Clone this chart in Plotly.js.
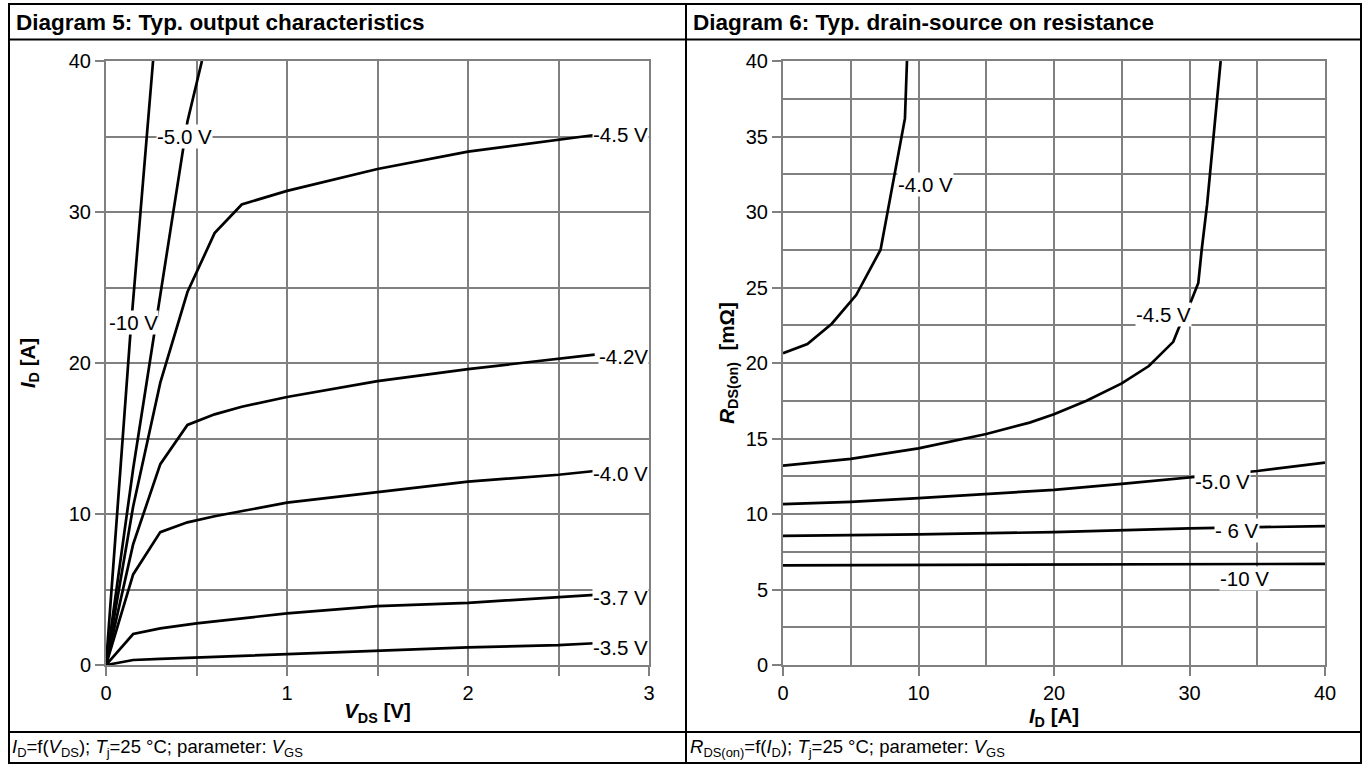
<!DOCTYPE html>
<html>
<head>
<meta charset="utf-8">
<script src="https://cdn.plot.ly/plotly-3.0.1.min.js"></script>
<style>html,body{margin:0;padding:0;background:#fff;}#chart{width:1364px;height:766px;}</style>
</head>
<body>
<div id="chart"></div>
<script>
// ---------- Diagram 5: output characteristics (VDS [V] -> ID [A]) ----------
const vds_m35 = [0, 0.15, 0.3, 0.5, 1.0, 1.5, 2.0, 2.5, 2.7];
const id_m35  = [0, 0.33, 0.40, 0.49, 0.73, 0.95, 1.17, 1.32, 1.44];
const vds_m37 = [0, 0.15, 0.3, 0.5, 1.0, 1.5, 2.0, 2.5, 2.7];
const id_m37  = [0, 2.05, 2.43, 2.76, 3.42, 3.90, 4.12, 4.46, 4.64];
const vds_m40 = [0, 0.15, 0.3, 0.45, 0.6, 0.75, 1.0, 1.5, 2.0, 2.5, 2.7];
const id_m40  = [0, 6.0, 8.8, 9.45, 9.85, 10.2, 10.75, 11.45, 12.15, 12.6, 12.85];
const vds_m42 = [0, 0.15, 0.3, 0.45, 0.6, 0.75, 1.0, 1.5, 2.0, 2.5, 2.7];
const id_m42  = [0, 8.0, 13.3, 15.9, 16.6, 17.1, 17.75, 18.8, 19.6, 20.25, 20.55];
const vds_m45 = [0, 0.15, 0.3, 0.45, 0.6, 0.75, 1.0, 1.5, 2.0, 2.5, 2.7];
const id_m45  = [0, 10.5, 18.7, 24.7, 28.6, 30.5, 31.4, 32.85, 34.0, 34.8, 35.1];
const vds_m50 = [0, 0.15, 0.3, 0.45, 0.53];
const id_m50  = [0, 13.0, 24.5, 36.0, 40.0];
const vds_m10 = [0, 0.135, 0.26];
const id_m10  = [0, 22.0, 40.0];
const leftNames = ['-3.5 V', '-3.7 V', '-4.0 V', '-4.2V', '-4.5 V', '-5.0 V', '-10 V'];

// ---------- Diagram 6: on resistance (ID [A] -> RDS(on) [mOhm]) ----------
const idr_m40 = [0, 1.8, 3.6, 5.4, 7.2, 9.0, 9.15];
const r_m40   = [20.65, 21.25, 22.6, 24.5, 27.5, 36.2, 40.0];
const idr_m45 = [0, 5, 10, 15, 18.2, 20, 22.4, 25, 27, 28.8, 29.2, 30.1, 30.65, 30.9, 31.3, 31.8, 32.3];
const r_m45   = [13.2, 13.65, 14.35, 15.3, 16.05, 16.6, 17.5, 18.65, 19.8, 21.4, 22.3, 24.06, 25.3, 27.5, 30.5, 35.0, 40.0];
const idr_m50 = [0, 5, 10, 15, 20, 25, 30, 35, 40];
const r_m50   = [10.65, 10.8, 11.05, 11.3, 11.6, 12.0, 12.4, 12.85, 13.4];
const idr_m6  = [0, 10, 20, 30, 40];
const r_m6    = [8.55, 8.65, 8.8, 9.05, 9.2];
const idr_m10 = [0, 20, 40];
const r_m10   = [6.6, 6.65, 6.7];
const rightNames = ['-4.0 V', '-4.5 V', '-5.0 V', '- 6 V', '-10 V'];

// ---------- texts ----------
const title5 = 'Diagram 5: Typ. output characteristics';
const title6 = 'Diagram 6: Typ. drain-source on resistance';
const foot5 = '<i>I</i><sub>D</sub>=f(<i>V</i><sub>DS</sub>); <i>T</i><sub>j</sub>=25 °C; parameter: <i>V</i><sub>GS</sub>';
const foot6 = '<i>R</i><sub>DS(on)</sub>=f(<i>I</i><sub>D</sub>); <i>T</i><sub>j</sub>=25 °C; parameter: <i>V</i><sub>GS</sub>';

const W = 1364, H = 766;
const FONT = 'Liberation Sans, Arial, Helvetica, sans-serif';
const px = v => v / W;
const py = v => 1 - v / H;
const GRID = '#808080';
const LINE = {color: '#000', width: 2.7};

function tr(x, y, name, xa, ya) {
  return {x: x, y: y, name: name, type: 'scatter', mode: 'lines', line: LINE,
          xaxis: xa, yaxis: ya, hoverinfo: 'skip', showlegend: false};
}

const data = [
  tr(vds_m35, id_m35, leftNames[0], 'x', 'y'),
  tr(vds_m37, id_m37, leftNames[1], 'x', 'y'),
  tr(vds_m40, id_m40, leftNames[2], 'x', 'y'),
  tr(vds_m42, id_m42, leftNames[3], 'x', 'y'),
  tr(vds_m45, id_m45, leftNames[4], 'x', 'y'),
  tr(vds_m50, id_m50, leftNames[5], 'x', 'y'),
  tr(vds_m10, id_m10, leftNames[6], 'x', 'y'),
  tr(idr_m40, r_m40, rightNames[0], 'x2', 'y2'),
  tr(idr_m45, r_m45, rightNames[1], 'x2', 'y2'),
  tr(idr_m50, r_m50, rightNames[2], 'x2', 'y2'),
  tr(idr_m6,  r_m6,  rightNames[3], 'x2', 'y2'),
  tr(idr_m10, r_m10, rightNames[4], 'x2', 'y2')
];

const tickFont = {family: FONT, size: 20, color: '#000'};
const titleFont = {family: FONT, size: 20.5, color: '#000'};
function axis(domain, range, dtick, minorDtick, minorTicks, extra) {
  return Object.assign({
    domain: domain, range: range, dtick: dtick, tick0: 0,
    showgrid: true, gridcolor: GRID, gridwidth: 2,
    ticks: 'outside', ticklen: 9, tickwidth: 2, tickcolor: GRID,
    showline: true, linecolor: GRID, linewidth: 2, mirror: true,
    zeroline: false, fixedrange: true, tickfont: tickFont, automargin: false,
    minor: {dtick: minorDtick, showgrid: true, gridcolor: GRID, gridwidth: 2,
            ticks: minorTicks ? 'outside' : '', ticklen: 9, tickwidth: 2, tickcolor: GRID}
  }, extra);
}
const ydom = [1 - 665 / H, 1 - 61 / H];

const layout = {
  width: W, height: H, margin: {l: 0, r: 0, t: 0, b: 0},
  paper_bgcolor: '#fff', plot_bgcolor: '#fff', showlegend: false,
  font: {family: FONT, color: '#000'},
  xaxis: axis([px(106), px(649)], [0, 3], 1, 0.5, true, {
    anchor: 'y',
    title: {text: '<b><i>V</i><sub>DS</sub> [V]</b>', font: titleFont, standoff: 1}
  }),
  yaxis: axis(ydom, [0, 40], 10, 5, false, {
    anchor: 'x',
    title: {text: '<b><i>I</i><sub>D</sub> [A]</b>', font: titleFont, standoff: 28}
  }),
  xaxis2: axis([px(783), px(1325)], [0, 40], 10, 5, false, {
    anchor: 'y2',
    title: {text: '<b><i>I</i><sub>D</sub> [A]</b>', font: titleFont, standoff: 1}
  }),
  yaxis2: axis(ydom, [0, 40], 5, 2.5, false, {
    anchor: 'x2',
    title: {text: '<b><i>R</i><sub>DS(on)</sub>\u00a0\u00a0[mΩ]</b>', font: titleFont, standoff: 6}
  }),
  shapes: [
    {type: 'rect', xref: 'paper', yref: 'paper', x0: px(9), x1: px(1361), y0: py(763), y1: py(4), line: {color: '#000', width: 2}},
    {type: 'line', xref: 'paper', yref: 'paper', x0: px(9), x1: px(1361), y0: py(39.5), y1: py(39.5), line: {color: '#000', width: 2}},
    {type: 'line', xref: 'paper', yref: 'paper', x0: px(9), x1: px(1361), y0: py(732), y1: py(732), line: {color: '#000', width: 2}},
    {type: 'line', xref: 'paper', yref: 'paper', x0: px(686), x1: px(686), y0: py(763), y1: py(4), line: {color: '#000', width: 2}}
  ],
  annotations: []
};

const hdrFont = {family: FONT, size: 22.5, color: '#000', weight: 'bold'};
const ftFont = {family: FONT, size: 18.5, color: '#000'};
layout.annotations.push(
  {xref: 'paper', yref: 'paper', x: px(14), y: py(22), xanchor: 'left', yanchor: 'middle', text: '<b>' + title5 + '</b>', showarrow: false, font: hdrFont},
  {xref: 'paper', yref: 'paper', x: px(691), y: py(22), xanchor: 'left', yanchor: 'middle', text: '<b>' + title6 + '</b>', showarrow: false, font: hdrFont},
  {xref: 'paper', yref: 'paper', x: px(10), y: py(748), xanchor: 'left', yanchor: 'middle', text: foot5, showarrow: false, font: ftFont},
  {xref: 'paper', yref: 'paper', x: px(688), y: py(748), xanchor: 'left', yanchor: 'middle', text: foot6, showarrow: false, font: ftFont}
);

const labFont = {family: FONT, size: 20.5, color: '#000'};
function lab(xr, yr, x, y, text, xanchor) {
  return {xref: xr, yref: yr, x: x, y: y, text: text, xanchor: xanchor || 'center', yanchor: 'middle',
          showarrow: false, bgcolor: '#fff', borderpad: 0, font: labFont};
}
layout.annotations.push(
  lab('x', 'y', 0.436, 35.0, leftNames[5]),
  lab('x', 'y', 0.151, 22.7, leftNames[6]),
  lab('x', 'y', 3, 35.1, leftNames[4], 'right'),
  lab('x', 'y', 3, 20.4, leftNames[3], 'right'),
  lab('x', 'y', 3, 12.7, leftNames[2], 'right'),
  lab('x', 'y', 3, 4.45, leftNames[1], 'right'),
  lab('x', 'y', 3, 1.15, leftNames[0], 'right'),
  lab('x2', 'y2', 8.4, 31.8, rightNames[0], 'left'),
  lab('x2', 'y2', 28.07, 23.2, rightNames[1]),
  lab('x2', 'y2', 32.45, 12.14, rightNames[2]),
  lab('x2', 'y2', 33.5, 8.94, rightNames[3]),
  lab('x2', 'y2', 34.06, 5.74, rightNames[4])
);

Plotly.newPlot('chart', data, layout, {staticPlot: true, displayModeBar: false});
</script>
</body>
</html>
